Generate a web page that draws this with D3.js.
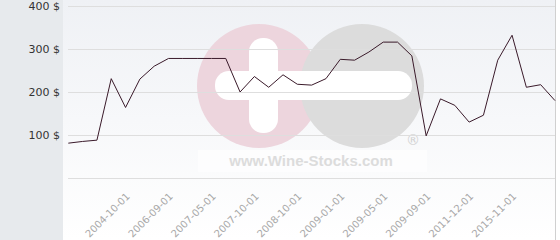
<!DOCTYPE html>
<html><head><meta charset="utf-8">
<script src="https://cdn.jsdelivr.net/npm/d3@7"></script>
<style>html,body{margin:0;padding:0;background:#fff;overflow:hidden}</style>
</head><body><svg id="c" width="560" height="240"></svg>
<script>
const prices = [81,85,88,231,164,230,260,278,278,278,278,278,200,236,211,240,218,216,231,276,274,293,316,316,284,98,184,169,130,146,274,332,211,217,180];
const tickIndex = [4,7,10,13,16,19,22,25,28,31];
const tickLabels = ["2004-10-01","2006-09-01","2007-05-01","2007-10-01","2008-10-01","2009-01-01","2009-05-01","2009-09-01","2011-12-01","2015-11-01"];
const yTicks = [100,200,300,400];

const svg = d3.select("#c");
const x = d3.scaleLinear().domain([0, prices.length-1]).range([68.3, 555]);
const y = d3.scaleLinear().domain([0, 400]).range([178, 6]);

const defs = svg.append("defs");
const g = defs.append("linearGradient").attr("id","bg").attr("x1",0).attr("y1",0).attr("x2",0).attr("y2",1);
g.append("stop").attr("offset","0%").attr("stop-color","#eff1f5");
g.append("stop").attr("offset","100%").attr("stop-color","#ffffff");

svg.append("rect").attr("x",0).attr("y",0).attr("width",560).attr("height",240).attr("fill","#fff");
svg.append("rect").attr("x",63).attr("y",0).attr("width",493).attr("height",240).attr("fill","url(#bg)");
svg.append("rect").attr("x",0).attr("y",0).attr("width",63).attr("height",240).attr("fill","#e7eaed");
svg.append("line").attr("x1",555.5).attr("x2",555.5).attr("y1",0).attr("y2",240).attr("stroke","#d0d0d0");

// watermark
const wm = svg.append("g");
wm.append("circle").attr("cx",259).attr("cy",86).attr("r",62).attr("fill","#edd5dd");
wm.append("circle").attr("cx",362).attr("cy",86).attr("r",62).attr("fill","#dcdcdc");
wm.append("rect").attr("x",215).attr("y",71).attr("width",197).attr("height",29).attr("rx",14).attr("fill","#fff");
wm.append("rect").attr("x",249).attr("y",38).attr("width",29).attr("height",95).attr("rx",14).attr("fill","#fff");
wm.append("rect").attr("x",198).attr("y",150).attr("width",229).attr("height",22).attr("fill","#fff").attr("opacity",0.6);
wm.append("text").attr("x",311).attr("y",166).attr("text-anchor","middle")
  .attr("font-family","Liberation Sans, Arial, sans-serif").attr("font-weight","bold").attr("font-size",15)
  .attr("fill","#dcdcdc").text("www.Wine-Stocks.com");
wm.append("text").attr("x",413).attr("y",145).attr("text-anchor","middle")
  .attr("font-family","DejaVu Sans, sans-serif").attr("font-size",14).attr("fill","#d2d2d2").text("®");

// grid
svg.append("g").selectAll("line").data([0].concat(yTicks)).join("line")
  .attr("x1",68).attr("x2",555).attr("y1",d=>Math.round(y(d))+0.5).attr("y2",d=>Math.round(y(d))+0.5)
  .attr("stroke","#dedede").attr("stroke-width",1);

svg.append("g").selectAll("text").data(yTicks).join("text")
  .attr("x",60).attr("y",d=>y(d)+4).attr("text-anchor","end")
  .attr("font-family","DejaVu Sans, sans-serif").attr("font-size",11).attr("fill","#333")
  .text(d=>d+" $");

svg.append("g").selectAll("text").data(tickIndex).join("text")
  .attr("transform",(d)=>`translate(${x(d)+5},197) rotate(-45)`)
  .attr("text-anchor","end")
  .attr("font-family","DejaVu Sans, sans-serif").attr("font-size",10).attr("fill","#a8a8a8")
  .text((d,i)=>tickLabels[i]);

svg.append("path").datum(prices)
  .attr("d", d3.line().x((d,i)=>x(i)).y(d=>y(d)))
  .attr("fill","none").attr("stroke","#3a1a2a").attr("stroke-width",1);
</script></body></html>
